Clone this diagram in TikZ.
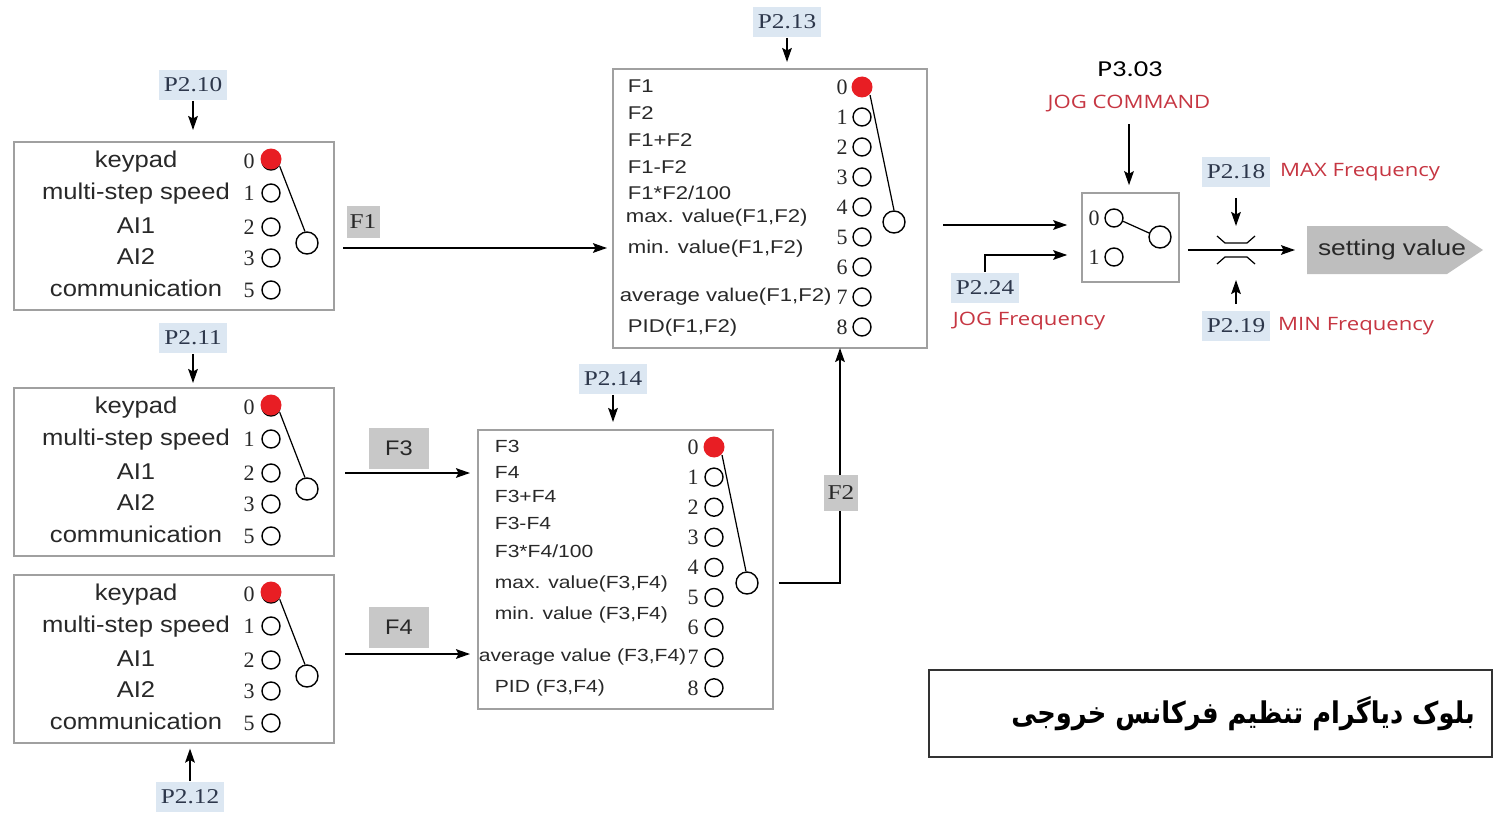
\documentclass[tikz,border=0pt]{standalone}
\usepackage{fontspec}
\setmainfont{Liberation Sans}
\newfontfamily\srcfont[FakeStretch=1.12]{Liberation Sans}
\newfontfamily\mixfont[FakeStretch=1.2]{Liberation Sans}
\newfontfamily\parfont[FakeStretch=1.2]{Liberation Serif}
\newfontfamily\numfont{Liberation Serif}
\newfontfamily\redfont[FakeStretch=1.2]{Open Sans}
\newfontfamily\calfont[FakeStretch=1.25]{Carlito}
\newfontfamily\farsifont[Script=Arabic, FakeStretch=0.86]{DejaVu Sans}
\TeXXeTstate=1
\usepackage{tikz}
\usetikzlibrary{positioning, calc, arrows.meta}

\newcommand\srcstyle{\srcfont\fontsize{13pt}{15pt}\selectfont}
\newcommand\flabstyle{\srcfont\fontsize{12pt}{14pt}\selectfont}
\newcommand\mixstyle{\mixfont\fontsize{10.5pt}{12pt}\selectfont}
\newcommand\midstyle{\mixfont\fontsize{10pt}{12pt}\selectfont}
\newcommand\parstyle{\parfont\fontsize{12pt}{14pt}\selectfont}
\newcommand\numstyle{\numfont\fontsize{12.5pt}{14pt}\selectfont}
\newcommand\redstyle{\redfont\fontsize{10.5pt}{12pt}\selectfont}
\newcommand\calstyle{\calfont\fontsize{13pt}{15pt}\selectfont}
\newcommand\setstyle{\mixfont\fontsize{12.5pt}{14pt}\selectfont}

\definecolor{parblue}{RGB}{220,231,242}
\definecolor{sigray}{RGB}{200,200,200}
\definecolor{boxgray}{RGB}{160,160,160}
\definecolor{jogred}{RGB}{198,54,66}
\definecolor{partext}{RGB}{45,55,75}
\definecolor{portred}{RGB}{232,30,36}
\definecolor{txtdark}{RGB}{40,40,40}

\begin{document}
\begin{tikzpicture}[
    x=0.02cm, y=-0.02cm,
    >={Stealth[length=8pt, width=5.5pt, inset=1.5pt]},
    line width=1pt,
    srcbox/.style={draw=boxgray, line width=0.9pt, anchor=north west, minimum width=6.4cm, minimum height=3.36cm},
    mixbox/.style={draw=boxgray, line width=0.9pt, anchor=north west},
    srctxt/.style={font=\srcstyle, text=txtdark, inner sep=0pt, text height=9.5pt, text depth=2.5pt},
    mixtxt/.style={font=\mixstyle, text=txtdark, anchor=west, inner sep=0pt, text height=7.5pt, text depth=2pt},
    num/.style={font=\numstyle, text=txtdark, inner sep=0pt},
    port/.style={circle, draw, line width=0.8pt, minimum size=0.36cm, inner sep=0pt},
    hot/.style={circle, fill=portred, minimum size=0.42cm, inner sep=0pt},
    pivot/.style={circle, draw, line width=0.8pt, minimum size=0.44cm, inner sep=0pt},
    lever/.style={line width=0.7pt},
    par/.style={fill=parblue, text=partext, font=\parstyle, inner xsep=3pt, minimum height=0.6cm},
    flab/.style={fill=sigray, text=txtdark, inner sep=0pt},
    redlbl/.style={text=jogred, font=\redstyle, inner sep=0pt}
]
\useasboundingbox (0,0) rectangle (1493,814);

% source selectors F1, F3, F4
\foreach \k/\y in {1/141, 2/387, 3/574} {
    \node[srcbox] (src\k) at (13,\y) {};
    \foreach \t/\d/\n in {keypad/20/0, multi-step speed/52/1, AI1/86/2, AI2/117/3, communication/149/5} {
        \node[srctxt] at (136,\y+\d) {\t};
        \node[num] at (249,\y+\d) {\n};
        \node[port] (s\k-\n) at (271,\y+\d) {};
    }
    \node[hot] (s\k-hot) at (271,\y+18) {};
    \node[pivot] (s\k-p) at (307,\y+102) {};
    \draw[lever] (s\k-hot.-40) -- (s\k-p.100);
}

% parameters of the sources
\node[par] (p210) at (193,85) {P2.10};
\node[par] (p211) at (193,338) {P2.11};
\node[par] (p212) at (190,797) {P2.12};
\draw[->, shorten >=0.22cm] (p210.south) -- (p210.south |- src1.north);
\draw[->, shorten >=0.08cm] (p211.south) -- (p211.south |- src2.north);
\draw[->, shorten >=0.1cm] (p212.north) -- (p212.north |- src3.south);

% F3 / F4 mixer
\node[mixbox, minimum width=5.9cm, minimum height=5.58cm] (mix34) at (477,429) {};
\foreach \t/\x/\y in {F3/494/448, F4/494/474, {F3+F4}/494/498, {F3-F4}/494/525, {F3*F4/100}/494/553,
        {max. value(F3,F4)}/494/584, {min. value (F3,F4)}/494/615, {average value (F3,F4)}/478/657, {PID (F3,F4)}/494/688}
    \node[mixtxt, font=\midstyle] at (\x,\y) {\t};
\foreach \n in {0,...,8} {
    \node[num] at (693,447+30.1*\n) {\n};
    \node[port] (m34-\n) at (714,447+30.1*\n) {};
}
\node[hot] (m34-hot) at (714,447) {};
\node[pivot] (m34-p) at (747,583) {};
\draw[lever] (m34-hot.-45) -- (m34-p.95);
\node[par] (p214) at (613,379) {P2.14};
\draw[->, shorten >=0.14cm] (p214.south) -- (p214.south |- mix34.north);

% F1 / F2 mixer
\node[mixbox, minimum width=6.28cm, minimum height=5.58cm] (mix12) at (612,68) {};
\foreach \t/\x/\y in {F1/627/88, F2/627/115, {F1+F2}/627/142, {F1-F2}/627/169, {F1*F2/100}/627/195,
        {max. value(F1,F2)}/625/218, {min. value(F1,F2)}/627/249, {average value(F1,F2)}/619/297, {PID(F1,F2)}/627/328}
    \node[mixtxt] at (\x,\y) {\t};
\foreach \n in {0,...,8} {
    \node[num] at (842,87+30*\n) {\n};
    \node[port] (m12-\n) at (862,87+30*\n) {};
}
\node[hot] (m12-hot) at (862,87) {};
\node[pivot] (m12-p) at (894,222) {};
\draw[lever] (m12-hot.-45) -- (m12-p.north);
\node[par] (p213) at (787,22) {P2.13};
\draw[->, shorten >=0.12cm] (p213.south) -- (p213.south |- mix12.north);

% signals between the blocks
\coordinate (f1s) at (343,248);
\coordinate (f3s) at (345,473);
\coordinate (f4s) at (345,654);
\coordinate (f2up) at (840,348);
\draw[->, shorten >=0.1cm] (f1s) -- (f1s -| mix12.west);
\draw[->, shorten >=0.14cm] (f3s) -- (f3s -| mix34.west);
\draw[->, shorten >=0.14cm] (f4s) -- (f4s -| mix34.west);
\draw[->, shorten <=0.4cm] (m34-p.east) -| (f2up);
\node[flab, font=\parstyle, minimum width=0.66cm, minimum height=0.66cm] (f1) at (363,222) {F1};
\node[flab, font=\flabstyle, minimum width=1.2cm, minimum height=0.82cm] (f3) at (399,448) {F3};
\node[flab, font=\flabstyle, minimum width=1.2cm, minimum height=0.82cm] (f4) at (399,627) {F4};
\node[flab, font=\parstyle, minimum width=0.68cm, minimum height=0.72cm] (f2) at (841,493) {F2};

% jog switch
\node[draw=boxgray, line width=0.9pt, minimum width=1.94cm, minimum height=1.78cm] (jog) at (1130.5,237.5) {};
\node[num] at (1094,218) {0};
\node[num] at (1094,257) {1};
\node[port] (j-0) at (1114,218) {};
\node[port] (j-1) at (1114,257) {};
\node[pivot] (j-p) at (1160,237) {};
\draw[lever] (j-0.-20) -- (j-p.160);
\coordinate (mixout) at (943,225);
\draw[->, shorten >=0.28cm] (mixout) -- (mixout -| jog.west);
\node[par] (p224) at (985,288) {P2.24};
\node[redlbl, anchor=west] (jogfreq) at (952,321) {JOG Frequency};
\draw[->, shorten >=0.28cm] (p224.north) |- (jog.west |- 0,255);
\node[font=\calstyle, inner sep=0pt] (p303) at (1130,69) {P3.03};
\node[redlbl] (jogcmd) at (1129,104) {JOG COMMAND};
\draw[->, shorten <=0.22cm, shorten >=0.14cm] (jogcmd.south) -- (jogcmd.south |- jog.north);

% limiter and output
\coordinate (lim) at (1236,250);
\draw[lever, shift={(lim)}] (-19,-14) -- (-11,-7) -- (11,-7) -- (19,-14);
\draw[lever, shift={(lim)}] (-19,14) -- (-11,7) -- (11,7) -- (19,14);
\fill[sigray!95!black] (1307,226) -- (1447,226) -- (1483,250) -- (1447,274) -- (1307,274) -- cycle;
\node[font=\setstyle, text=txtdark, inner sep=0pt] (setval) at (1392,250) {setting value};
\draw[->, shorten <=0.16cm, shorten >=0.24cm] (jog.east |- setval) -- (setval.west -| 1307,0);
\node[par] (p218) at (1236,172) {P2.18};
\node[par] (p219) at (1236,326) {P2.19};
\node[redlbl, right=0.16cm of p218] (maxf) {MAX Frequency};
\node[redlbl, right=0.12cm of p219] (minf) {MIN Frequency};
\draw[->, shorten <=0.2cm, shorten >=0.48cm] (p218.south) -- (lim);
\draw[->, shorten <=0.12cm, shorten >=0.6cm] (p219.north) -- (lim);

% caption
\node[draw=black!80, line width=0.8pt, minimum width=11.26cm, minimum height=1.74cm] (title) at (1210.5,713.5) {};
\node[font=\farsifont\bfseries\fontsize{17pt}{20pt}\selectfont, inner sep=0pt, left=0.34cm of title.east] (titletext) {\beginR بلوک دیاگرام تنظیم فرکانس خروجی\endR};

\end{tikzpicture}
\end{document}
